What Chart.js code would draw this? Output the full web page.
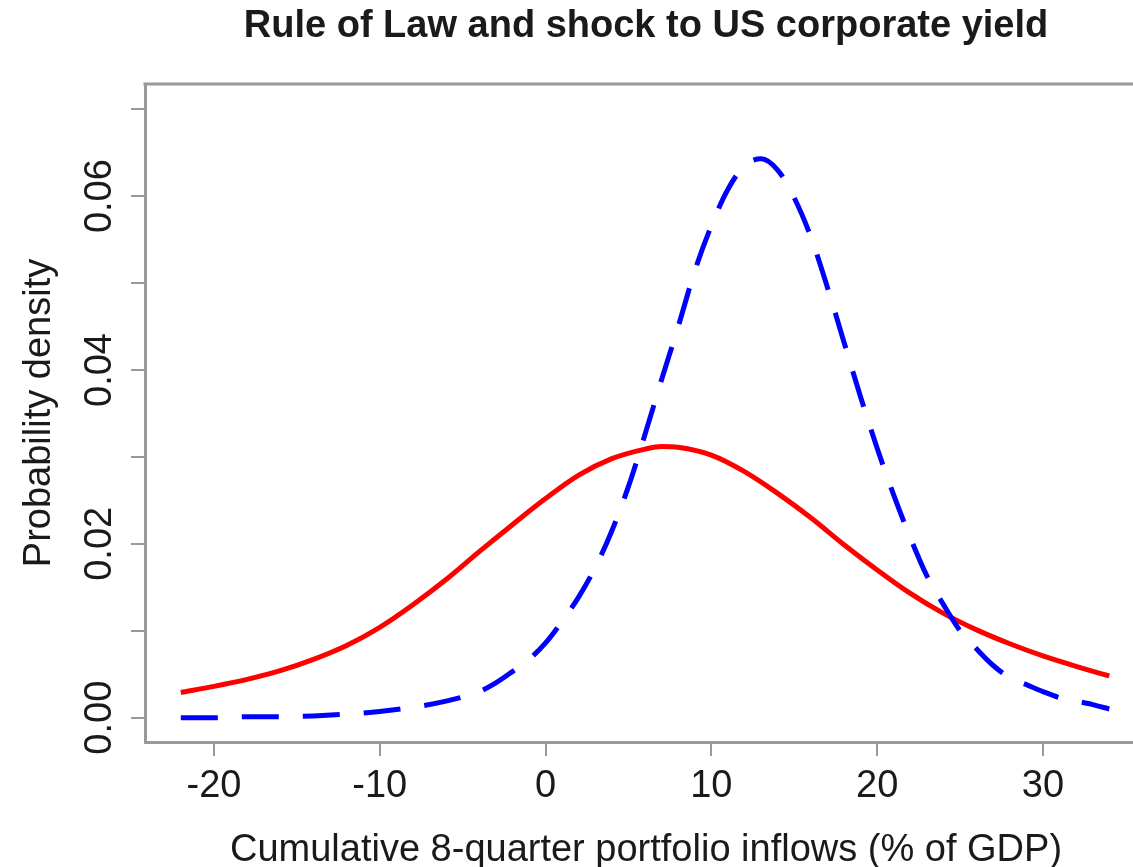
<!DOCTYPE html>
<html>
<head>
<meta charset="utf-8">
<script src="https://cdn.jsdelivr.net/npm/chart.js@4.4.1/dist/chart.umd.min.js"></script>
<style>
  html, body { margin: 0; padding: 0; background: #fff; overflow: hidden; }
  #wrap { width: 1133px; height: 867px; }
</style>
</head>
<body>
<div id="wrap"><canvas id="densityChart" width="1133" height="867"></canvas></div>
<script>
// densite des flux cumules - deux distributions
const chartTitle = "Rule of Law and shock to US corporate yield";
const xAxisTitle = "Cumulative 8-quarter portfolio inflows (% of GDP)";
const yAxisTitle = "Probability density";

const xTickValues = [-20, -10, 0, 10, 20, 30];
const yTickValues = [0, 0.01, 0.02, 0.03, 0.04, 0.05, 0.06, 0.07];
const yTickLabels = ["0.00", "", "0.02", "", "0.04", "", "0.06", ""];

// courbe rouge (trait plein)
const redX = [-22, -20, -18, -16, -14, -12, -10, -8, -6, -4, -2, 0, 2, 4, 6, 7, 8, 10, 12, 14, 16, 18, 20, 22, 24, 26, 28, 30, 32, 34];
const redY = [0.0029, 0.0036, 0.0044, 0.0054, 0.0067, 0.0083, 0.0104, 0.0130, 0.0159, 0.0191, 0.0222, 0.0252, 0.0279, 0.0298, 0.0309, 0.0312, 0.0311, 0.0302, 0.0283, 0.0258, 0.0230, 0.0199, 0.0170, 0.0143, 0.0120, 0.0101, 0.0085, 0.0071, 0.0059, 0.0048];

// courbe bleue (tirets)
const blueX = [-22, -20, -18, -16, -14, -12, -10, -8, -6, -4, -3, -2, -1, 0, 1, 2, 3, 4, 5, 6, 7, 8, 9, 10, 11, 12, 13, 14, 15, 16, 17, 18, 19, 20, 21, 22, 23, 24, 25, 26, 27, 28, 29, 30, 31, 32, 33, 34];
const blueY = [0.0000, 0.0000, 0.0001, 0.0001, 0.0002, 0.0004, 0.0007, 0.0012, 0.0019, 0.0030, 0.0040, 0.0053, 0.0067, 0.0086, 0.0111, 0.0139, 0.0173, 0.0215, 0.0266, 0.0326, 0.0389, 0.0450, 0.0514, 0.0566, 0.0608, 0.0635, 0.0643, 0.0630, 0.0598, 0.0553, 0.0495, 0.0432, 0.0369, 0.0310, 0.0256, 0.0207, 0.0163, 0.0130, 0.0100, 0.0079, 0.0060, 0.0046, 0.0038, 0.0030, 0.0023, 0.0019, 0.0015, 0.0010];

const FONT = "'Liberation Sans', Arial, sans-serif";
const TEXT = "#1a1a1a";
const AXIS = "#999";

const toPoints = (xs, ys) => xs.map((x, i) => ({ x: x, y: ys[i] }));

// titres + etiquettes verticales + cadre du haut
const decorPlugin = {
  id: "decor",
  afterDraw(chart) {
    const { ctx, chartArea, scales } = chart;
    ctx.save();
    ctx.fillStyle = TEXT;

    // titre
    ctx.font = "bold 38px " + FONT;
    ctx.textAlign = "center";
    ctx.textBaseline = "alphabetic";
    ctx.fillText(chartTitle, 646, 37);

    // titre axe x
    ctx.font = "38px " + FONT;
    ctx.fillText(xAxisTitle, 646, 861);

    // titre axe y
    ctx.save();
    ctx.translate(50, 413);
    ctx.rotate(-Math.PI / 2);
    ctx.fillText(yAxisTitle, 0, 0);
    ctx.restore();

    // etiquettes y tournees
    yTickValues.forEach((v, i) => {
      if (!yTickLabels[i]) return;
      const py = scales.y.getPixelForValue(v);
      ctx.save();
      ctx.translate(111, py);
      ctx.rotate(-Math.PI / 2);
      ctx.fillText(yTickLabels[i], 0, 0);
      ctx.restore();
    });

    // cadre du haut
    ctx.strokeStyle = AXIS;
    ctx.lineWidth = 3;
    ctx.beginPath();
    ctx.moveTo(chartArea.left - 1.5, chartArea.top);
    ctx.lineTo(chartArea.right + 5, chartArea.top);
    ctx.stroke();
    ctx.restore();
  }
};

new Chart(document.getElementById("densityChart").getContext("2d"), {
  type: "line",
  data: {
    datasets: [
      {
        label: "blue",
        data: toPoints(blueX, blueY),
        borderColor: "#0000ff",
        borderWidth: 5,
        borderDash: [37, 24],
        pointRadius: 0,
        cubicInterpolationMode: "monotone",
        fill: false
      },
      {
        label: "red",
        data: toPoints(redX, redY),
        borderColor: "#ff0000",
        borderWidth: 5,
        pointRadius: 0,
        cubicInterpolationMode: "monotone",
        fill: false
      }
    ]
  },
  options: {
    responsive: false,
    animation: false,
    devicePixelRatio: 1,
    layout: { padding: { top: 84, right: 0, left: 0, bottom: 0 } },
    plugins: {
      legend: { display: false },
      title: { display: false },
      tooltip: { enabled: false }
    },
    scales: {
      x: {
        type: "linear",
        min: -24.16,
        max: 35.43,
        afterBuildTicks: s => { s.ticks = xTickValues.map(v => ({ value: v })); },
        afterFit: s => { s.height = 125; },
        border: { color: AXIS, width: 3 },
        grid: { drawOnChartArea: false, color: AXIS, lineWidth: 2, tickLength: 14 },
        ticks: {
          color: TEXT,
          font: { family: FONT, size: 38 },
          padding: 8,
          maxRotation: 0,
          autoSkip: false,
          callback: v => String(v)
        }
      },
      y: {
        type: "linear",
        min: -0.0028,
        max: 0.0729,
        afterBuildTicks: s => { s.ticks = yTickValues.map(v => ({ value: v })); },
        afterFit: s => { s.width = 145; },
        border: { color: AXIS, width: 3 },
        grid: { drawOnChartArea: false, color: AXIS, lineWidth: 2, tickLength: 14 },
        ticks: { display: false }
      }
    }
  },
  plugins: [decorPlugin]
});
</script>
</body>
</html>
